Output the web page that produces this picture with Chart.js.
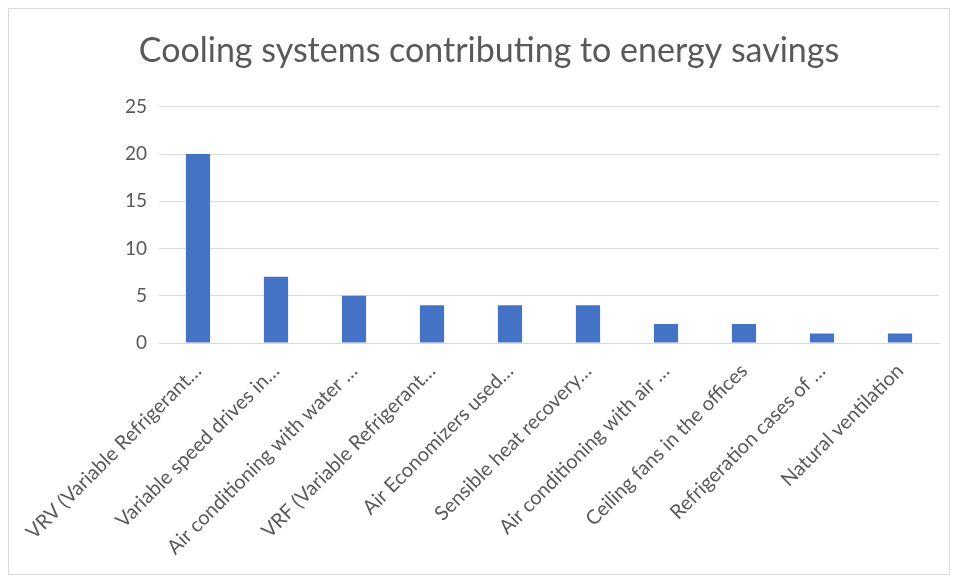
<!DOCTYPE html>
<html>
<head>
<meta charset="utf-8">
<script src="https://cdn.jsdelivr.net/npm/chart.js@4/dist/chart.umd.min.js"></script>
<style>
  html, body { margin: 0; padding: 0; background: #fff; }
  #wrap {
    position: absolute; left: 8px; top: 8px;
    width: 940px; height: 565px;
    border: 1px solid #d9d9d9;
  }
</style>
</head>
<body>
<div id="wrap"><canvas id="chart" width="940" height="565"></canvas></div>
<script>
const categories = [
  'VRV (Variable Refrigerant…',
  'Variable speed drives in…',
  'Air conditioning with water …',
  'VRF (Variable Refrigerant…',
  'Air Economizers used…',
  'Sensible heat recovery…',
  'Air conditioning with air …',
  'Ceiling fans in the offices',
  'Refrigeration cases of …',
  'Natural ventilation'
];
const counts = [20, 7, 5, 4, 4, 4, 2, 2, 1, 1];
const yTicks = [0, 5, 10, 15, 20, 25];

const textColor = '#595959';
const gridColor = '#d9d9d9';

const ctx = document.getElementById('chart').getContext('2d');
new Chart(ctx, {
  type: 'bar',
  data: {
    labels: categories,
    datasets: [{
      label: 'Count',
      data: counts,
      backgroundColor: '#4472c4',
      barPercentage: 0.31,
      categoryPercentage: 1
    }]
  },
  options: {
    responsive: false,
    animation: false,
    // left padding nudges the centred title right; y axis width makes up the rest
    layout: { padding: { left: 30, right: 10, top: 0, bottom: 0 } },
    plugins: {
      legend: { display: false },
      tooltip: { enabled: false },
      title: {
        display: true,
        text: 'Cooling systems contributing to energy savings',
        color: textColor,
        font: { family: 'Lato', size: 34, weight: 'normal' },
        padding: { top: 22, bottom: 35 }
      }
    },
    scales: {
      y: {
        min: 0,
        max: 25,
        afterBuildTicks: axis => { axis.ticks = yTicks.map(v => ({ value: v })); },
        afterFit: axis => { axis.width = 120; },
        border: { display: false },
        grid: { color: gridColor, lineWidth: 1, drawTicks: false },
        ticks: {
          color: textColor,
          padding: 12,
          font: { family: 'Lato', size: 19 }
        }
      },
      x: {
        afterFit: axis => { axis.height = 231; },
        border: { display: true, color: gridColor, width: 1 },
        grid: { display: false },
        ticks: {
          color: textColor,
          autoSkip: false,
          minRotation: 45,
          maxRotation: 45,
          padding: 8,
          font: { family: 'Lato', size: 20 }
        }
      }
    }
  }
});
</script>
</body>
</html>
